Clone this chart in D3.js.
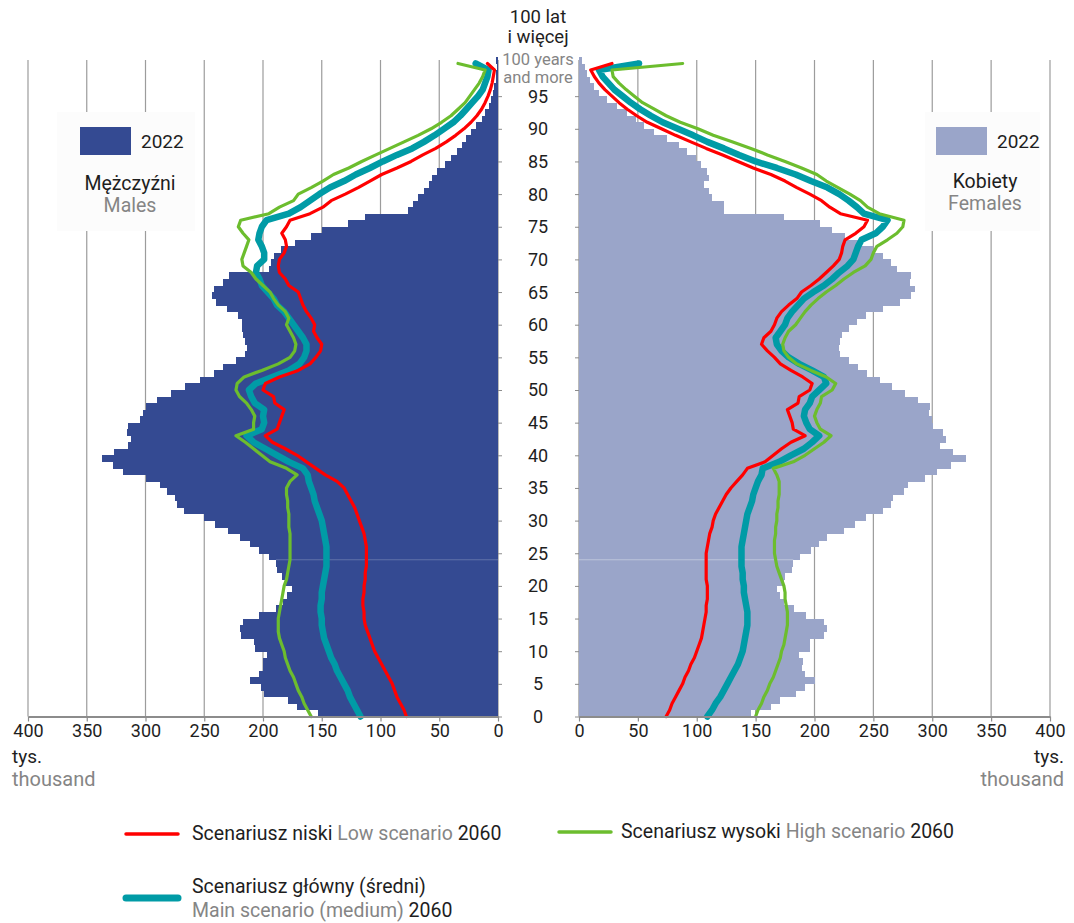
<!DOCTYPE html>
<html>
<head>
<meta charset="utf-8">
<script src="https://cdn.jsdelivr.net/npm/d3@7"></script>
<style>
  body { margin: 0; background: #fff; }
  svg { font-family: Roboto, "Open Sans", sans-serif; }
</style>
</head>
<body>
<div id="pyramid"></div>
<script>
// wiek 0..100 (100 = 100 lat i więcej), wartości w tys.
const ages = d3.range(0, 101);

const males2022 = [153,171,179,199,202,211,203,200,200,197, 207,208,219,220,217,203,189,183,180,175,
  181,184,188,189,195,203,211,220,230,241, 250,267,273,275,282,288,300,319,328,337,
  327,315,312,316,315,305,302,300,290,278, 266,254,242,234,223,215,214,215,217,218,
  218,221,231,240,243,242,234,229,195,193, 191,185,173,159,150,128,113,77,72,68,
  63,59,56,52,45,40,35,31,27,23, 19,14,11,8,6,4,3,2,1.4,1, 1.5];

const females2022 = [146,163,171,184,192,200,192,189,190,187, 196,196,208,211,208,193,183,174,171,168,
  174,175,181,182,188,197,204,211,225,234, 244,258,265,267,276,279,294,304,316,329,
  318,307,312,309,301,300,297,298,288,277, 266,256,245,237,229,222,221,222,223,229,
  236,244,258,273,282,285,281,282,270,265, 258,250,240,226,215,205,174,123,123,113,
  110,106,110,109,104,99,92,85,75,64, 55,48,41,32,24,17,12.5,9.6,6.8,4.8, 2.5];

// prognoza 2060 - mężczyźni
const malesLow = [78,80,83,86,88,90,93,96,99,102, 105,107,109,111,113,114,114,115,115,114,
  114,113,113,112,112,112,112,113,114,116, 118,120,122,125,128,131,137,147,155,163,
  171,181,192,198,188,186,184,182,190,191, 200,198,186,170,160,155,151,150,154,157,
  156,159,163,166,168,170,178,181,186,187, 186,182,180,181,184,180,177,160,149,142,
  130,119,109,99,86,74,64,53,44,36, 29,23,18,14,11,8.5,6.5,5,4,3, 9];

const malesMain = [117,120,123,126,128,131,134,137,139,142, 144,146,148,149,150,150,151,151,150,150,
  149,148,147,146,146,146,146,147,148,149, 150,152,154,156,157,159,161,162,166,178,
  188,198,208,214,201,199,200,199,207,210, 212,206,192,178,169,165,163,163,166,170,
  174,178,182,188,191,196,201,203,206,205, 199,199,201,204,203,201,197,178,168,160,
  152,143,131,121,109,98,86,73,63,54, 46,38,32,27,22,17,13,11,9,8, 19];

const malesHigh = [159,162,165,167,170,172,174,177,179,181, 182,184,186,187,187,187,186,185,184,183,
  182,180,179,178,177,177,177,177,177,178, 178,178,179,179,180,180,177,171,180,194,
  201,208,215,223,208,208,207,210,214,220, 223,222,216,201,187,177,173,172,174,177,
  180,178,181,187,191,194,200,206,210,217, 218,216,214,212,217,221,219,195,186,174,
  170,159,149,140,127,116,104,92,80,68, 57,48,40,34,28,24,20,16,13,11, 34];

// prognoza 2060 - kobiety
const femalesLow = [74,77,79,82,85,88,90,93,95,98, 100,102,104,105,106,107,108,108,109,109,
  109,108,108,108,108,108,109,110,111,113, 114,116,119,122,125,129,134,139,143,158,
  165,172,180,192,182,181,179,177,186,187, 196,198,190,180,171,166,160,155,157,163,
  166,168,172,178,185,189,197,204,210,216, 221,223,224,226,235,242,245,222,213,206,
  196,185,175,163,148,135,122,108,95,82, 70,58,49,41,34,28,22,17,13,10, 28];

const femalesMain = [109,113,116,120,123,126,129,132,135,137, 139,140,141,142,143,143,143,142,141,140,
  140,139,139,138,138,138,138,139,140,141, 142,143,145,147,148,150,152,155,156,170,
  180,191,198,204,196,193,191,192,196,198, 204,210,208,198,187,178,172,168,167,171,
  175,177,181,186,191,199,208,215,221,228, 233,235,237,240,252,258,262,242,236,229,
  221,211,197,184,168,150,136,123,109,97, 84,71,61,52,44,37,30,25,20,17, 51];

const femalesHigh = [150,152,155,157,160,162,165,167,169,171, 172,174,175,176,177,177,177,176,175,175,
  174,172,170,168,167,166,166,166,167,167, 168,168,169,169,170,170,170,168,165,182,
  192,200,208,214,205,202,200,202,205,206, 215,218,210,197,185,178,174,173,175,178,
  184,188,192,197,203,210,218,225,233,243, 248,250,253,262,270,275,276,255,245,239,
  230,220,210,202,189,175,160,146,130,114, 101,86,74,64,54,47,40,34,29,28, 88];

const xTicks = d3.range(0, 401, 50);
const ageTicks = d3.range(0, 100, 5);

const colMale = "#344a92", colFemale = "#9aa5c9";
const colLow = "#ff0000", colMain = "#009ba6", colHigh = "#6cbd2e";
const gray = "#858585", dark = "#1e1e1e";

const W = 1074, H = 923;
const svg = d3.select("#pyramid").append("svg")
  .attr("width", W).attr("height", H);

const y = d3.scaleLinear().domain([0, 100]).range([716.5, 63.5]);
const xL = d3.scaleLinear().domain([0, 400]).range([498, 28]);
const xR = d3.scaleLinear().domain([0, 400]).range([579, 1050]);
const gridTop = 60;

// linie siatki
[xL, xR].forEach(function(x) {
  svg.append("g").selectAll("line")
    .data(xTicks.filter(function(d) { return d > 0; }))
    .join("line")
    .attr("x1", function(d) { return x(d); })
    .attr("x2", function(d) { return x(d); })
    .attr("y1", gridTop).attr("y2", y(0))
    .attr("stroke", "#9c9c9c").attr("stroke-width", 1.2);
});

// osie pionowe
svg.append("line").attr("x1", xL(0)).attr("x2", xL(0)).attr("y1", gridTop).attr("y2", y(0))
  .attr("stroke", "#8c8c8c").attr("stroke-width", 1.2);
svg.append("line").attr("x1", xR(0)).attr("x2", xR(0)).attr("y1", gridTop).attr("y2", y(0))
  .attr("stroke", "#8c8c8c").attr("stroke-width", 1.2);

// legenda w ramkach (przykrywa siatkę)
svg.append("rect").attr("x", 57).attr("y", 112).attr("width", 138).attr("height", 119).attr("fill", "#fcfcfc");
svg.append("rect").attr("x", 925).attr("y", 112).attr("width", 115).attr("height", 119).attr("fill", "#fcfcfc");

// słupki 2022
svg.append("g").selectAll("rect")
  .data(ages)
  .join("rect")
  .attr("x", function(a) { return xL(males2022[a]); })
  .attr("y", function(a) { return y(a + 1); })
  .attr("width", function(a) { return xL(0) - xL(males2022[a]); })
  .attr("height", function(a) { return y(a) - y(a + 1) + 0.4; })
  .attr("fill", colMale)
  .attr("shape-rendering", "crispEdges");

svg.append("g").selectAll("rect")
  .data(ages)
  .join("rect")
  .attr("x", xR(0))
  .attr("y", function(a) { return y(a + 1); })
  .attr("width", function(a) { return xR(females2022[a]) - xR(0); })
  .attr("height", function(a) { return y(a) - y(a + 1) + 0.4; })
  .attr("fill", colFemale)
  .attr("shape-rendering", "crispEdges");

// jasna linia w słupkach
svg.append("line").attr("x1", xL(males2022[23])).attr("x2", xL(0)).attr("y1", y(24)).attr("y2", y(24))
  .attr("stroke", "#ffffff").attr("stroke-opacity", 0.22).attr("stroke-width", 1);
svg.append("line").attr("x1", xR(0)).attr("x2", xR(females2022[23])).attr("y1", y(24)).attr("y2", y(24))
  .attr("stroke", "#ffffff").attr("stroke-opacity", 0.35).attr("stroke-width", 1);

// linie scenariuszy
function drawLine(x, values, color, width) {
  const line = d3.line()
    .x(function(d, i) { return x(d); })
    .y(function(d, i) { return y(i); });
  svg.append("path")
    .datum(values)
    .attr("d", line)
    .attr("fill", "none")
    .attr("stroke", color)
    .attr("stroke-width", width)
    .attr("stroke-linejoin", "round")
    .attr("stroke-linecap", "round");
}
drawLine(xL, malesMain, colMain, 6.5);
drawLine(xL, malesHigh, colHigh, 3.2);
drawLine(xL, malesLow, colLow, 3.2);
drawLine(xR, femalesMain, colMain, 6.5);
drawLine(xR, femalesHigh, colHigh, 3.2);
drawLine(xR, femalesLow, colLow, 3.2);

// oś X
function styleAxis(g) {
  g.select(".domain").attr("stroke", "#8c8c8c").attr("stroke-width", 2);
  g.selectAll(".tick line").attr("stroke", "#8c8c8c").attr("stroke-width", 1.2);
  g.selectAll(".tick text").attr("fill", dark).attr("font-size", 18)
    .attr("font-family", "Roboto, sans-serif");
}
svg.append("g")
  .attr("transform", `translate(0, ${y(0)})`)
  .call(d3.axisBottom(xL).tickValues(xTicks).tickSize(5).tickPadding(3).tickSizeOuter(0))
  .call(styleAxis);
svg.append("g")
  .attr("transform", `translate(0, ${y(0)})`)
  .call(d3.axisBottom(xR).tickValues(xTicks).tickSize(5).tickPadding(3).tickSizeOuter(0))
  .call(styleAxis);

// podziałka wieku
svg.append("g")
  .attr("transform", `translate(${xL(0)}, 0)`)
  .call(d3.axisRight(y).tickValues(ageTicks).tickSize(4).tickFormat(""))
  .call(function(g) {
    g.select(".domain").remove();
    g.selectAll(".tick line").attr("stroke", "#8c8c8c");
  });
svg.append("g")
  .attr("transform", `translate(${xR(0)}, 0)`)
  .call(d3.axisLeft(y).tickValues(ageTicks).tickSize(4).tickFormat(""))
  .call(function(g) {
    g.select(".domain").remove();
    g.selectAll(".tick line").attr("stroke", "#8c8c8c");
  });

const midX = (xL(0) + xR(0)) / 2 - 0.5;
svg.append("g").selectAll("text")
  .data(ageTicks)
  .join("text")
  .attr("x", midX)
  .attr("y", function(d) { return y(d); })
  .attr("dy", "0.36em")
  .attr("text-anchor", "middle")
  .attr("font-size", 18)
  .attr("fill", dark)
  .text(function(d) { return d; });

function txt(x, yy, s, opts) {
  opts = opts || {};
  return svg.append("text")
    .attr("x", x).attr("y", yy)
    .attr("text-anchor", opts.anchor || "start")
    .attr("font-size", opts.size || 19)
    .attr("fill", opts.color || dark)
    .text(s);
}

txt(midX, 23, "100 lat", {anchor: "middle", size: 18.5});
txt(midX, 43, "i więcej", {anchor: "middle", size: 18.5});
txt(midX, 65, "100 years", {anchor: "middle", color: gray, size: 16.5});
txt(midX, 83, "and more", {anchor: "middle", color: gray, size: 16.5});

// jednostki
txt(12, 763, "tys.");
txt(12, 786, "thousand", {color: gray, size: 20});
txt(1064, 763, "tys.", {anchor: "end"});
txt(1064, 786, "thousand", {anchor: "end", color: gray, size: 20});

// legenda 2022
svg.append("rect").attr("x", 80).attr("y", 127).attr("width", 51).attr("height", 28).attr("fill", colMale);
txt(141, 148, "2022");
txt(130, 190, "Mężczyźni", {anchor: "middle", size: 19.5});
txt(130, 212, "Males", {anchor: "middle", color: gray, size: 19.5});

svg.append("rect").attr("x", 936).attr("y", 127).attr("width", 51).attr("height", 28).attr("fill", colFemale);
txt(997, 148, "2022");
txt(985, 188, "Kobiety", {anchor: "middle", size: 19.5});
txt(985, 210, "Females", {anchor: "middle", color: gray, size: 19.5});

// legenda scenariuszy
function legendLine(x1, x2, yy, color, width) {
  svg.append("line").attr("x1", x1).attr("x2", x2).attr("y1", yy).attr("y2", yy)
    .attr("stroke", color).attr("stroke-width", width).attr("stroke-linecap", "round");
}
function legendText(x, yy, parts) {
  const t = svg.append("text").attr("x", x).attr("y", yy).attr("font-size", 19.5);
  parts.forEach(function(p) {
    t.append("tspan").attr("fill", p[1] ? gray : dark).text(p[0]);
  });
}
legendLine(126, 178, 834, colLow, 3.5);
legendText(192, 840, [["Scenariusz niski "], ["Low scenario", true], [" 2060"]]);
legendLine(559, 611, 832, colHigh, 3.5);
legendText(621, 838, [["Scenariusz wysoki "], ["High scenario", true], [" 2060"]]);
legendLine(126, 178, 898, colMain, 7);
legendText(192, 893, [["Scenariusz główny (średni)"]]);
legendText(192, 917, [["Main scenario (medium)", true], [" 2060"]]);
</script>
</body>
</html>
